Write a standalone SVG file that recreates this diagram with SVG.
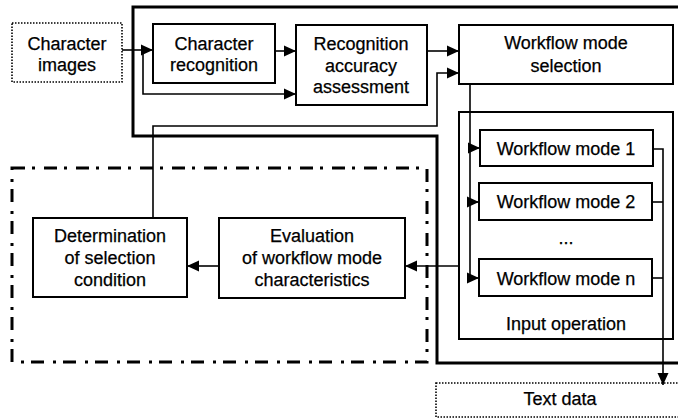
<svg xmlns="http://www.w3.org/2000/svg" width="678" height="418" viewBox="0 0 678 418">
<style>
  text { font-family: "Liberation Sans", Arial, sans-serif; font-size: 18px; fill: #000; text-anchor: middle; stroke: #000; stroke-width: 0.25; }
  .box { fill: #fff; stroke: #000; stroke-width: 2; }
  .dotbox { fill: #fff; stroke: #000; stroke-width: 1.6; stroke-dasharray: 1.5 1.5; }
  .conn { fill: none; stroke: #000; stroke-width: 1.6; }
  .frame { fill: none; stroke: #000; stroke-width: 3; }
  .dashdot { fill: none; stroke: #000; stroke-width: 3; stroke-dasharray: 13 7 3 9; }
</style>
<defs>
  <marker id="arr" markerUnits="userSpaceOnUse" markerWidth="13" markerHeight="13" viewBox="0 0 13 13" refX="12" refY="6.5" orient="auto">
    <path d="M0,1 L12,6.5 L0,12 Z" fill="#000"/>
  </marker>
</defs>
<rect width="678" height="418" fill="#fff"/>

<g id="frame">
  <path class="frame" d="M680,7 H133 V136 H437 V363 H680"/>
</g>
<g id="evaluation-region">
  <rect class="dashdot" x="12" y="168" width="415" height="194"/>
</g>

<g id="character-images">
  <rect class="dotbox" x="12" y="23" width="110" height="59"/>
  <text x="67" y="50">Character</text>
  <text x="67" y="71">images</text>
</g>
<g id="character-recognition">
  <rect class="box" x="153" y="24" width="122" height="59"/>
  <text x="214" y="50">Character</text>
  <text x="214" y="71">recognition</text>
</g>
<g id="recognition-accuracy">
  <rect class="box" x="296" y="25" width="131" height="80"/>
  <text x="361" y="50">Recognition</text>
  <text x="361" y="72">accuracy</text>
  <text x="361" y="93">assessment</text>
</g>
<g id="workflow-mode-selection">
  <rect class="box" x="459" y="25" width="214" height="59"/>
  <text x="566" y="49">Workflow mode</text>
  <text x="566" y="72">selection</text>
</g>
<g id="input-operation">
  <rect class="box" x="459" y="112" width="214" height="227"/>
  <text x="566" y="330">Input operation</text>
  <text x="566" y="244">...</text>
</g>
<g id="workflow-mode-1">
  <rect class="box" x="480" y="130" width="173" height="36"/>
  <text x="566" y="155">Workflow mode 1</text>
</g>
<g id="workflow-mode-2">
  <rect class="box" x="479" y="183" width="173" height="37"/>
  <text x="566" y="208">Workflow mode 2</text>
</g>
<g id="workflow-mode-n">
  <rect class="box" x="479" y="259" width="173" height="37"/>
  <text x="566" y="285">Workflow mode n</text>
</g>
<g id="determination">
  <rect class="box" x="33" y="218" width="154" height="79"/>
  <text x="110" y="242">Determination</text>
  <text x="110" y="264">of selection</text>
  <text x="110" y="286">condition</text>
</g>
<g id="evaluation">
  <rect class="box" x="219" y="218" width="186" height="80"/>
  <text x="312" y="242">Evaluation</text>
  <text x="312" y="264">of workflow mode</text>
  <text x="312" y="286">characteristics</text>
</g>
<g id="text-data">
  <rect class="dotbox" x="436" y="383" width="250" height="34"/>
  <text x="560" y="405">Text data</text>
</g>

<g id="connectors">
  <path class="conn" d="M122,50 H153" marker-end="url(#arr)"/>
  <path class="conn" d="M143,50 V94 H296" marker-end="url(#arr)"/>
  <path class="conn" d="M275,51 H296" marker-end="url(#arr)"/>
  <path class="conn" d="M427,51 H459" marker-end="url(#arr)"/>
  <path class="conn" d="M153,218 V126 H437 V73 H459" marker-end="url(#arr)"/>
  <path class="conn" d="M470,84 V278 H479" marker-end="url(#arr)"/>
  <path class="conn" d="M470,148 H480" marker-end="url(#arr)"/>
  <path class="conn" d="M470,202 H479" marker-end="url(#arr)"/>
  <path class="conn" d="M459,266 H405" marker-end="url(#arr)"/>
  <path class="conn" d="M219,266 H187" marker-end="url(#arr)"/>
  <path class="conn" d="M653,149 H663 V385" marker-end="url(#arr)"/>
  <path class="conn" d="M652,202 H663"/>
  <path class="conn" d="M652,278 H663"/>
</g>
</svg>
